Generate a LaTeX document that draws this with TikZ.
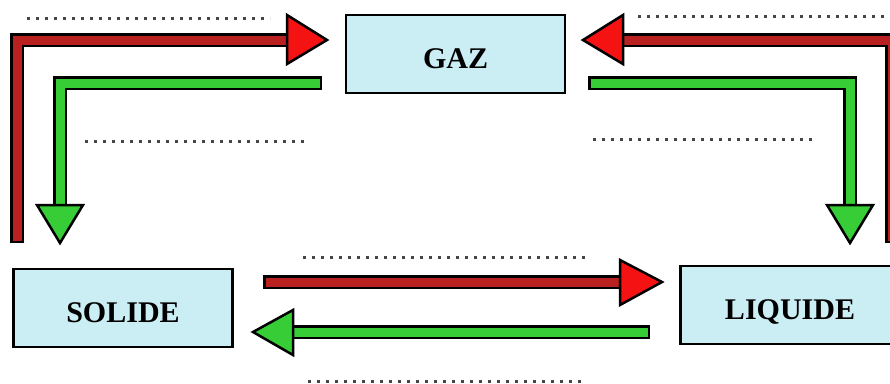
\documentclass[tikz,border=0pt]{standalone}
\usepackage{fontspec}
\setmainfont{Liberation Serif}
\usepackage{tikz}
\usetikzlibrary{positioning}
\usepackage{xcolor}

\definecolor{glace}{RGB}{202,238,244}
\definecolor{rougefonce}{RGB}{185,32,32}
\definecolor{rougevif}{RGB}{245,18,18}
\definecolor{vertclair}{RGB}{55,205,55}
\definecolor{pointille}{RGB}{70,70,70}

\newcommand{\tuyau}[2]{%
  \draw[contour] #2;
  \draw[line width=9pt,#1,line join=miter,shorten <=2.5pt] #2;}

\begin{document}
\begin{tikzpicture}[x=1pt,y=-1pt,
  etat/.style={draw=black,line width=2.5pt,fill=glace,minimum width=219pt,minimum height=78pt,inner sep=0pt,text height=28pt,text depth=0pt,font=\bfseries\fontsize{30}{30}\selectfont},
  contour/.style={line width=13.5pt,black,line join=miter},
  pointe/.style={draw=black,line width=2.5pt,line join=miter},
  tirets/.style={pointille,line width=3pt,dash pattern=on 3pt off 6pt}]

\useasboundingbox (0,0) rectangle (890,383);

\node[etat] (gaz) at (455.5,54) {GAZ};
\node[etat] (solide) at (123,308) {SOLIDE};
\node[etat] (liquide) at (790,305) {LIQUIDE};

\draw[tirets] (27,18)--(270,18);
\draw[tirets] (85,141)--(305,141);
\draw[tirets] (638,16)--(890,16);
\draw[tirets] (593,139)--(815,139);
\draw[tirets] (303,257)--(587,257);
\draw[tirets] (308,381)--(582,381);

\coordinate (sg0) at (17,243);
\coordinate (sg1) at (17,40);
\coordinate (sg2) at (288,40);
\tuyau{rougefonce}{(sg0)--(sg1)--(sg2)}
\filldraw[pointe,fill=rougevif] (287,15)--(327,40)--(287,64)--cycle;

\coordinate (gs0) at (322,83);
\coordinate (gs1) at (60,83);
\coordinate (gs2) at (60,206);
\tuyau{vertclair}{(gs0)--(gs1)--(gs2)}
\filldraw[pointe,fill=vertclair] (37,205)--(60,243)--(83,205)--cycle;

\coordinate (lg0) at (892,243);
\coordinate (lg1) at (892,40);
\coordinate (lg2) at (622,40);
\tuyau{rougefonce}{(lg0)--(lg1)--(lg2)}
\filldraw[pointe,fill=rougevif] (623,15)--(583,40)--(623,64)--cycle;

\coordinate (gl0) at (588,83);
\coordinate (gl1) at (850,83);
\coordinate (gl2) at (850,206);
\tuyau{vertclair}{(gl0)--(gl1)--(gl2)}
\filldraw[pointe,fill=vertclair] (827,205)--(850,243)--(873,205)--cycle;

\coordinate (sl0) at (263,282);
\coordinate (sl1) at (621,282);
\tuyau{rougefonce}{(sl0)--(sl1)}
\filldraw[pointe,fill=rougevif] (620,260)--(662,282)--(620,305)--cycle;

\coordinate (ls0) at (650,332);
\coordinate (ls1) at (292,332);
\tuyau{vertclair}{(ls0)--(ls1)}
\filldraw[pointe,fill=vertclair] (293,310)--(253,332)--(293,355)--cycle;

\end{tikzpicture}
\end{document}
